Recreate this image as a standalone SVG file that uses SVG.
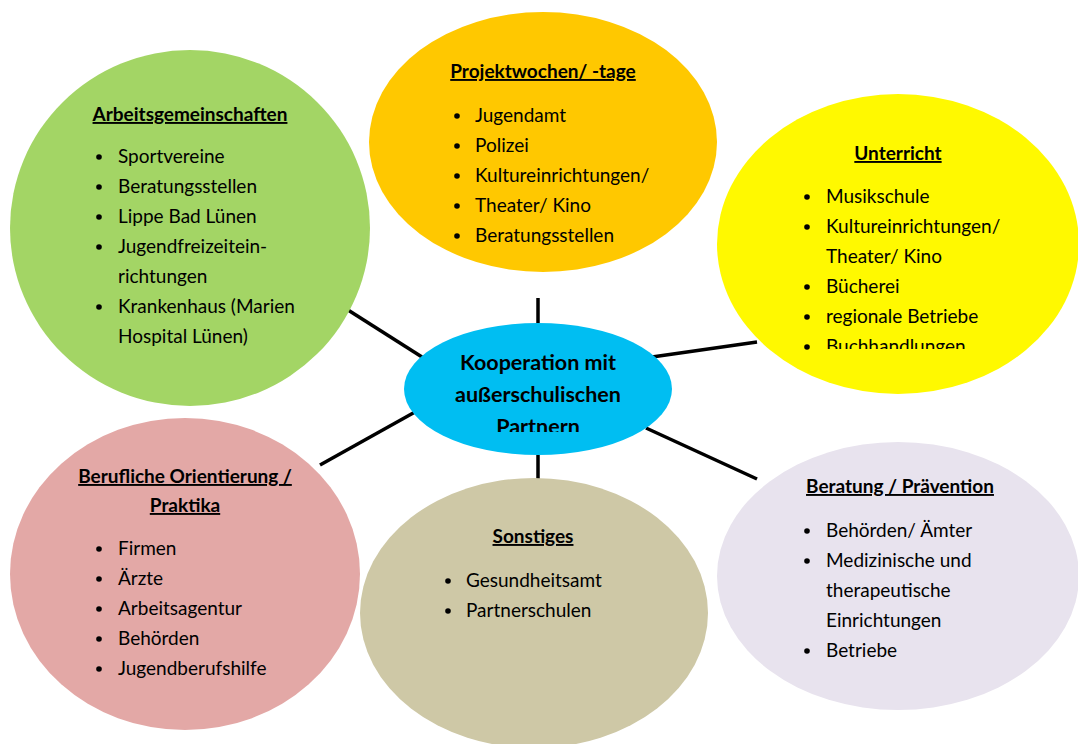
<svg xmlns="http://www.w3.org/2000/svg" width="1078" height="744" viewBox="0 0 1078 744">
<style>
.t{font-family:Lato,"Liberation Sans",sans-serif;font-size:19px;fill:#000}
.h{font-family:Lato,"Liberation Sans",sans-serif;font-size:19px;font-weight:bold;text-decoration:underline;fill:#000;text-anchor:middle}
.c{font-family:Lato,"Liberation Sans",sans-serif;font-size:21.5px;font-weight:bold;fill:#000;text-anchor:middle}
.b{fill:#000}
.con line{stroke:#000;stroke-width:3.5}
</style>
<defs>
<clipPath id="clipY"><rect x="700" y="0" width="378" height="349"/></clipPath>
<clipPath id="clipC"><rect x="400" y="300" width="280" height="132"/></clipPath>
</defs>
<rect width="1078" height="744" fill="#fff"/>
<g class="con" id="connectors">
<line x1="348" y1="310" x2="422" y2="357"/>
<line x1="538" y1="298" x2="538" y2="325"/>
<line x1="652" y1="357" x2="757" y2="342"/>
<line x1="320" y1="465" x2="415" y2="412"/>
<line x1="538" y1="454" x2="538" y2="480"/>
<line x1="646" y1="428" x2="757" y2="479"/>
</g>
<g id="arbeitsgemeinschaften">
<ellipse cx="190" cy="228" rx="180" ry="178" fill="#A3D565"/>
<text class="h" x="190" y="121">Arbeitsgemeinschaften</text>
<g class="b"><circle cx="99" cy="157" r="2.8"/><circle cx="99" cy="187" r="2.8"/><circle cx="99" cy="217" r="2.8"/><circle cx="99" cy="247" r="2.8"/><circle cx="99" cy="307" r="2.8"/></g>
<text class="t" x="118" y="163">Sportvereine</text>
<text class="t" x="118" y="193">Beratungsstellen</text>
<text class="t" x="118" y="223">Lippe Bad Lünen</text>
<text class="t" x="118" y="253">Jugendfreizeitein-</text>
<text class="t" x="118" y="283">richtungen</text>
<text class="t" x="118" y="313">Krankenhaus (Marien</text>
<text class="t" x="118" y="343">Hospital Lünen)</text>
</g>
<g id="projektwochen">
<ellipse cx="543" cy="142" rx="174" ry="130" fill="#FFC800"/>
<text class="h" x="543" y="78">Projektwochen/ -tage</text>
<g class="b"><circle cx="457" cy="116" r="2.8"/><circle cx="457" cy="146" r="2.8"/><circle cx="457" cy="176" r="2.8"/><circle cx="457" cy="206" r="2.8"/><circle cx="457" cy="236" r="2.8"/></g>
<text class="t" x="475" y="122">Jugendamt</text>
<text class="t" x="475" y="152">Polizei</text>
<text class="t" x="475" y="182">Kultureinrichtungen/</text>
<text class="t" x="475" y="212">Theater/ Kino</text>
<text class="t" x="475" y="242">Beratungsstellen</text>
</g>
<g id="unterricht">
<ellipse cx="898" cy="244" rx="181" ry="150" fill="#FFF900"/>
<text class="h" x="898" y="160">Unterricht</text>
<g class="b"><circle cx="807" cy="197" r="2.8"/><circle cx="807" cy="227" r="2.8"/><circle cx="807" cy="287" r="2.8"/><circle cx="807" cy="317" r="2.8"/><circle cx="807" cy="347" r="2.8"/></g>
<text class="t" x="826" y="203">Musikschule</text>
<text class="t" x="826" y="233">Kultureinrichtungen/</text>
<text class="t" x="826" y="263">Theater/ Kino</text>
<text class="t" x="826" y="293">Bücherei</text>
<text class="t" x="826" y="323">regionale Betriebe</text>
<text class="t" x="826" y="353" clip-path="url(#clipY)">Buchhandlungen</text>
</g>
<g id="center">
<ellipse cx="538" cy="389" rx="134" ry="66" fill="#00BEF2"/>
<text class="c" x="538" y="370">Kooperation mit</text>
<text class="c" x="538" y="402">außerschulischen</text>
<text class="c" x="538" y="434" clip-path="url(#clipC)">Partnern</text>
</g>
<g id="berufliche">
<ellipse cx="185" cy="574" rx="175" ry="156" fill="#E3A8A6"/>
<text class="h" x="185" y="483">Berufliche Orientierung /</text>
<text class="h" x="185" y="512">Praktika</text>
<g class="b"><circle cx="99" cy="549" r="2.8"/><circle cx="99" cy="579" r="2.8"/><circle cx="99" cy="609" r="2.8"/><circle cx="99" cy="639" r="2.8"/><circle cx="99" cy="669" r="2.8"/></g>
<text class="t" x="118" y="555">Firmen</text>
<text class="t" x="118" y="585">Ärzte</text>
<text class="t" x="118" y="615">Arbeitsagentur</text>
<text class="t" x="118" y="645">Behörden</text>
<text class="t" x="118" y="675">Jugendberufshilfe</text>
</g>
<g id="sonstiges">
<ellipse cx="534" cy="613" rx="174" ry="135" fill="#CEC8A6"/>
<text class="h" x="533" y="543">Sonstiges</text>
<g class="b"><circle cx="448" cy="581" r="2.8"/><circle cx="448" cy="611" r="2.8"/></g>
<text class="t" x="466" y="587">Gesundheitsamt</text>
<text class="t" x="466" y="617">Partnerschulen</text>
</g>
<g id="beratung">
<ellipse cx="898" cy="576" rx="181" ry="134" fill="#E8E3EE"/>
<text class="h" x="900" y="493">Beratung / Prävention</text>
<g class="b"><circle cx="807" cy="531" r="2.8"/><circle cx="807" cy="561" r="2.8"/><circle cx="807" cy="651" r="2.8"/></g>
<text class="t" x="826" y="537">Behörden/ Ämter</text>
<text class="t" x="826" y="567">Medizinische und</text>
<text class="t" x="826" y="597">therapeutische</text>
<text class="t" x="826" y="627">Einrichtungen</text>
<text class="t" x="826" y="657">Betriebe</text>
</g>
</svg>
